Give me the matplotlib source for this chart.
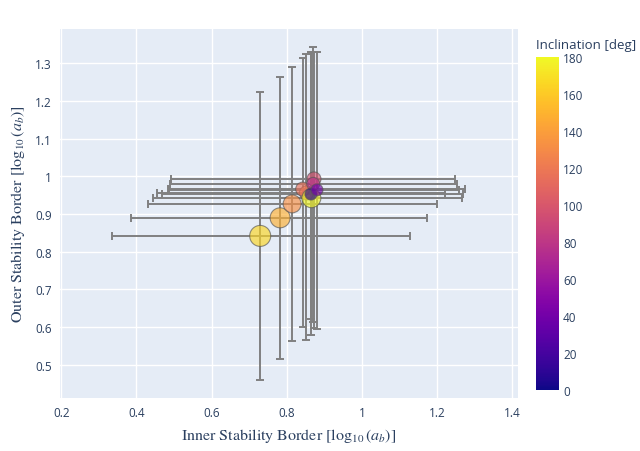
import numpy as np
import matplotlib
matplotlib.use("Agg")
import matplotlib.pyplot as plt
from matplotlib.ticker import FuncFormatter

plt.rcParams['font.family'] = ['Open Sans', 'DejaVu Sans']
plt.rcParams['mathtext.fontset'] = 'stix'

# Data
inner = [0.729, 0.782, 0.814, 0.852, 0.842, 0.865, 0.872, 0.870, 0.864, 0.880]
inner_lo = [0.335, 0.386, 0.431, 0.455, 0.485, 0.445, 0.493, 0.489, 0.468, 0.487]
inner_hi = [1.128, 1.173, 1.199, 1.221, 1.274, 1.266, 1.248, 1.253, 1.268, 1.259]
outer = [0.842, 0.890, 0.927, 0.956, 0.966, 0.942, 0.993, 0.980, 0.953, 0.964]
outer_lo = [0.460, 0.517, 0.564, 0.566, 0.601, 0.579, 0.598, 0.613, 0.621, 0.595]
outer_hi = [1.223, 1.263, 1.291, 1.324, 1.313, 1.330, 1.330, 1.342, 1.330, 1.330]
inclination = [165, 148, 132, 125, 115, 178, 97, 78, 8, 40]
bubble_px = [21, 20, 18, 14, 14, 19, 14, 13, 12, 12]

x = np.array(inner)
y = np.array(outer)
xerr = [x - np.array(inner_lo), np.array(inner_hi) - x]
yerr = [y - np.array(outer_lo), np.array(outer_hi) - y]
sizes = (np.array(bubble_px) * 0.72) ** 2

fig = plt.figure(figsize=(6.4, 4.52), dpi=100)
ax = fig.add_axes([0.094, 0.117, 0.715, 0.817])
ax.set_facecolor('#E5ECF6')
for s in ax.spines.values():
    s.set_visible(False)
ax.grid(True, color='white', linewidth=1.0)
ax.set_axisbelow(True)

ax.errorbar(x, y, xerr=xerr, yerr=yerr, fmt='none', ecolor='#808080',
            elinewidth=1.4, capsize=3, capthick=1.4, zorder=2)
sc = ax.scatter(x, y, c=inclination, cmap='plasma', vmin=0, vmax=180,
                s=sizes, alpha=0.65, edgecolors='#555555', linewidths=0.8, zorder=3)

ax.set_xlim(0.197, 1.414)
ax.set_ylim(0.412, 1.391)
ax.set_xticks(np.arange(0.2, 1.41, 0.2))
ax.set_yticks(np.arange(0.5, 1.31, 0.1))
fmt = FuncFormatter(lambda v, p: f"{round(v, 2):g}")
ax.xaxis.set_major_formatter(fmt)
ax.yaxis.set_major_formatter(fmt)
ax.tick_params(length=0, labelsize=8.5, labelcolor='#2a3f5f', pad=6)

ax.set_xlabel(r'Inner Stability Border $[\log_{10}(a_b)]$', fontsize=11.5,
              family='STIXGeneral', color='#2a3f5f', labelpad=5)
ax.set_ylabel(r'Outer Stability Border $[\log_{10}(a_b)]$', fontsize=11.5,
              family='STIXGeneral', color='#2a3f5f', labelpad=6)

cax = fig.add_axes([0.837, 0.135, 0.0364, 0.737])
cb = fig.colorbar(sc, cax=cax)
cb.solids.set_alpha(1)
cb.outline.set_visible(False)
cb.set_ticks(np.arange(0, 181, 20))
cax.tick_params(length=0, labelsize=8.5, labelcolor='#2a3f5f', pad=3)
fig.text(0.837, 0.885, 'Inclination [deg]', fontsize=9.5, color='#2a3f5f',
         ha='left', va='bottom')

fig.savefig('out.png', dpi=100)
